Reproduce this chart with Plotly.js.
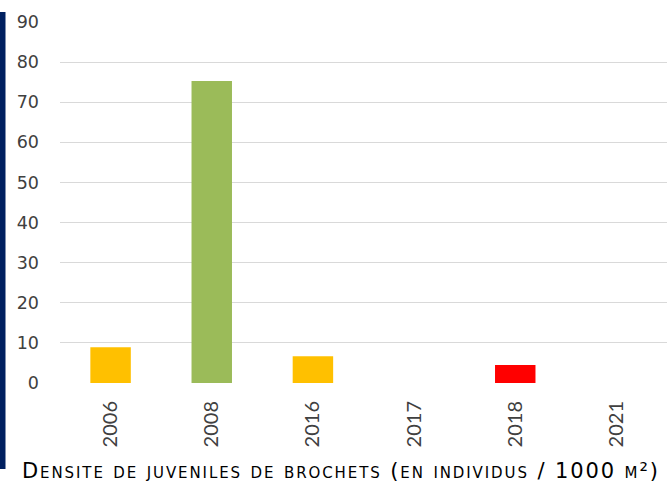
<!DOCTYPE html>
<html>
<head>
<meta charset="utf-8">
<script src="https://cdn.plot.ly/plotly-3.0.1.min.js"></script>
<style>html,body{margin:0;padding:0;background:#fff;}#chart{width:667px;height:486px;}</style>
</head>
<body>
<div id="chart"></div>
<script>
const years = ['2006', '2008', '2016', '2017', '2018', '2021'];
const density = [8.9, 75.3, 6.7, 0, 4.5, 0];
const barColors = ['#FFC000', '#9BBB59', '#FFC000', '#FFC000', '#FF0000', '#FFC000'];
const yTicks = [0, 10, 20, 30, 40, 50, 60, 70, 80, 90];
const titleText = 'Densite de juveniles de brochets (en individus / 1000 m²)';

const xFont = 'Lato, "Open Sans", sans-serif';
const yFont = '"DejaVu Sans", sans-serif';
const titleFont = '"DejaVu Sans", sans-serif';
const plotLeft = 60, plotWidth = 607;

// manual small caps: lowercase letters drawn as smaller capitals, with letter spacing
function smallCaps(s, big, small, spacing) {
  let out = '', buf = '', bigBuf = '';
  const flushSmall = () => { if (buf) { out += '<span style="font-size:' + small + 'px;letter-spacing:' + spacing + 'px">' + buf.toUpperCase() + '</span>'; buf = ''; } };
  const flushBig = () => { if (bigBuf) { out += '<span style="font-size:' + big + 'px;letter-spacing:' + spacing + 'px">' + bigBuf + '</span>'; bigBuf = ''; } };
  for (const ch of s) {
    if (/[a-z]/.test(ch)) { flushBig(); buf += ch; }
    else { flushSmall(); bigBuf += ch; }
  }
  flushSmall(); flushBig();
  return out;
}

Plotly.newPlot('chart', [{
  type: 'bar',
  x: years,
  y: density,
  marker: {color: barColors},
  width: 0.4,
  hoverinfo: 'x+y'
}], {
  width: 667, height: 486,
  margin: {l: plotLeft, r: 0, t: 22, b: 103, pad: 0},
  paper_bgcolor: '#fff', plot_bgcolor: '#fff',
  showlegend: false,
  font: {family: yFont, color: '#404040', size: 17.5},
  xaxis: {
    type: 'category',
    tickangle: -90,
    ticks: '',
    showgrid: false,
    showline: false,
    zeroline: false,
    ticklabelstandoff: 13,
    tickfont: {family: xFont, size: 20, color: '#404040'}
  },
  yaxis: {
    range: [0, 90],
    tickvals: yTicks,
    ticktext: yTicks.map(String),
    showgrid: true,
    gridcolor: '#D9D9D9',
    gridwidth: 1,
    zeroline: false,
    showline: false,
    ticks: '',
    ticklabelstandoff: 20,
    tickfont: {family: yFont, size: 17.5, color: '#404040'}
  },
  shapes: [{
    type: 'rect', xref: 'paper', yref: 'paper',
    x0: -plotLeft / plotWidth, x1: (5.5 - plotLeft) / plotWidth,
    y0: (383 - 469) / 361, y1: (383 - 12) / 361,
    fillcolor: '#002060', line: {width: 0}, layer: 'above'
  }],
  annotations: [{
    text: smallCaps(titleText, 21, 15, 1.9),
    xref: 'paper', yref: 'paper',
    x: (341 - plotLeft) / plotWidth, y: (383 - 471) / 361,
    xanchor: 'center', yanchor: 'middle',
    showarrow: false,
    font: {family: titleFont, size: 21, color: '#000'}
  }]
}, {displayModeBar: false, staticPlot: true});
</script>
</body>
</html>
